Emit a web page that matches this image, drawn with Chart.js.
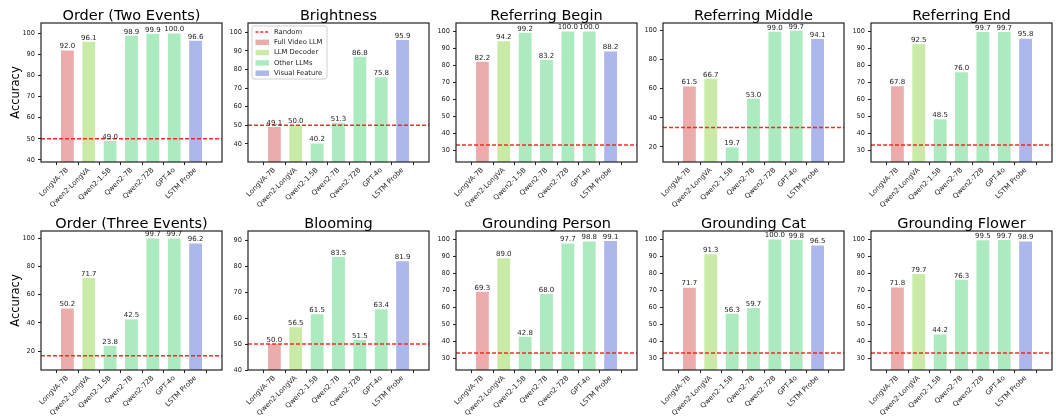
<!DOCTYPE html>
<html lang="en">
<head>
<meta charset="UTF-8">
<title>Probing accuracy per task</title>
<script src="https://cdn.jsdelivr.net/npm/chart.js@4.4.1/dist/chart.umd.min.js"></script>
<style>
  body { margin: 0; background: #fff; }
  #wrap { position: relative; width: 1056px; height: 417px; }
  #wrap canvas { position: absolute; }
</style>
</head>
<body>
<div id="wrap"></div>
<script>
// models and the group each one belongs to
const models = ['LongVA-7B', 'Qwen2-LongVA', 'Qwen2-1.5B', 'Qwen2-7B', 'Qwen2-72B', 'GPT-4o', 'LSTM Probe'];
const modelGroups = ['Full Video LLM', 'LLM Decoder', 'Other LLMs', 'Other LLMs', 'Other LLMs', 'Other LLMs', 'Visual Feature'];

// accuracy per task (same order as models)
const orderTwoEvents   = [92.0, 96.1, 49.0, 98.9, 99.9, 100.0, 96.6];
const brightness       = [49.1, 50.0, 40.2, 51.3, 86.8, 75.8, 95.9];
const referringBegin   = [82.2, 94.2, 99.2, 83.2, 100.0, 100.0, 88.2];
const referringMiddle  = [61.5, 66.7, 19.7, 53.0, 99.0, 99.7, 94.1];
const referringEnd     = [67.8, 92.5, 48.5, 76.0, 99.7, 99.7, 95.8];
const orderThreeEvents = [50.2, 71.7, 23.8, 42.5, 99.7, 99.7, 96.2];
const blooming         = [50.0, 56.5, 61.5, 83.5, 51.5, 63.4, 81.9];
const groundingPerson  = [69.3, 89.0, 42.8, 68.0, 97.7, 98.8, 99.1];
const groundingCat     = [71.7, 91.3, 56.3, 59.7, 100.0, 99.8, 96.5];
const groundingFlower  = [71.8, 79.7, 44.2, 76.3, 99.5, 99.7, 98.9];

const taskTitles = ['Order (Two Events)', 'Brightness', 'Referring Begin', 'Referring Middle', 'Referring End',
                    'Order (Three Events)', 'Blooming', 'Grounding Person', 'Grounding Cat', 'Grounding Flower'];
const taskValues = [orderTwoEvents, brightness, referringBegin, referringMiddle, referringEnd,
                    orderThreeEvents, blooming, groundingPerson, groundingCat, groundingFlower];
// chance level per task
const randomLevel = [50, 50, 33.3, 33.3, 33.3, 16.7, 50, 33.3, 33.3, 33.3];
const yTickStep   = [10, 10, 10, 20, 10, 20, 10, 10, 10, 10];

const groupColors = {
  'Full Video LLM': '#ebadab',
  'LLM Decoder':    '#c9eba7',
  'Other LLMs':     '#acebc0',
  'Visual Feature': '#acb7eb'
};
const legendGroups = ['Full Video LLM', 'LLM Decoder', 'Other LLMs', 'Visual Feature'];

// panel placement
const plotLefts = [41, 248, 456, 663, 871];
const rowTops = [23, 231];
const plotW = 181, plotH = 139;
const axisW = 41, axisH = 45, padTop = 23, padRight = 4;

const FONT = '"DejaVu Sans", sans-serif';
const RANDOM_RED = 'rgba(255,20,20,0.9)';

const panelDeco = {
  id: 'panelDeco',
  afterDatasetsDraw(chart, args, opts) {
    const { ctx, chartArea: a, scales: { y } } = chart;
    ctx.save();

    // chance line
    const ry = y.getPixelForValue(opts.random);
    ctx.strokeStyle = RANDOM_RED;
    ctx.lineWidth = 1.5;
    ctx.setLineDash([4, 2]);
    ctx.beginPath(); ctx.moveTo(a.left, ry); ctx.lineTo(a.right, ry); ctx.stroke();
    ctx.setLineDash([]);

    // value labels
    ctx.font = '7px ' + FONT;
    ctx.fillStyle = '#222';
    ctx.textAlign = 'center';
    ctx.textBaseline = 'bottom';
    const vals = chart.data.datasets[0].data;
    chart.getDatasetMeta(0).data.forEach((bar, i) => {
      ctx.fillText(vals[i].y.toFixed(1), bar.x, bar.y - 0.5);
    });

    // frame
    ctx.strokeStyle = '#222';
    ctx.lineWidth = 1.2;
    ctx.strokeRect(a.left, a.top, a.right - a.left, a.bottom - a.top);

    // title
    ctx.font = '14.5px ' + FONT;
    ctx.fillStyle = '#000';
    ctx.textBaseline = 'alphabetic';
    ctx.fillText(opts.title, (a.left + a.right) / 2, a.top - 3);

    // legend box
    if (opts.legend) {
      const lx = a.left + 4, ly = a.top + 3, lw = 75, lh = 53;
      ctx.fillStyle = 'rgba(255,255,255,0.85)';
      ctx.strokeStyle = '#d0d0d0';
      ctx.lineWidth = 1;
      ctx.beginPath();
      ctx.roundRect(lx, ly, lw, lh, 2);
      ctx.fill(); ctx.stroke();
      ctx.font = '6.8px ' + FONT;
      ctx.textAlign = 'left';
      ctx.textBaseline = 'middle';
      const names = ['Random'].concat(legendGroups);
      names.forEach((name, k) => {
        const cy = ly + 6 + k * 10.3;
        if (k === 0) {
          ctx.strokeStyle = RANDOM_RED;
          ctx.lineWidth = 1.3;
          ctx.setLineDash([3, 1.8]);
          ctx.beginPath(); ctx.moveTo(lx + 3.5, cy); ctx.lineTo(lx + 17, cy); ctx.stroke();
          ctx.setLineDash([]);
        } else {
          ctx.fillStyle = groupColors[name];
          ctx.fillRect(lx + 3.5, cy - 2.7, 13.5, 5.4);
        }
        ctx.fillStyle = '#222';
        ctx.fillText(name, lx + 22, cy);
      });
    }
    ctx.restore();
  }
};

const wrap = document.getElementById('wrap');

taskValues.forEach((vals, t) => {
  const row = Math.floor(t / 5), col = t % 5;
  const canvas = document.createElement('canvas');
  const cw = axisW + plotW + padRight, chh = padTop + plotH + axisH;
  canvas.width = cw; canvas.height = chh;
  canvas.style.left = (plotLefts[col] - axisW) + 'px';
  canvas.style.top = (rowTops[row] - padTop) + 'px';
  canvas.style.width = cw + 'px'; canvas.style.height = chh + 'px';
  wrap.appendChild(canvas);

  const yMin = Math.min(Math.min(...vals), randomLevel[t]) - 10;
  const yMax = Math.min(105, Math.max(...vals) + 10);

  new Chart(canvas, {
    type: 'bar',
    data: {
      datasets: [{
        data: vals.map((v, i) => ({ x: i, y: v })),
        backgroundColor: modelGroups.map(g => groupColors[g]),
        borderWidth: 0,
        categoryPercentage: 1,
        barPercentage: 0.6
      }]
    },
    plugins: [panelDeco],
    options: {
      responsive: false,
      animation: false,
      devicePixelRatio: window.devicePixelRatio || 1,
      layout: { padding: { top: padTop, right: padRight, left: 0, bottom: 0 } },
      plugins: {
        legend: { display: false },
        tooltip: { enabled: false },
        panelDeco: { random: randomLevel[t], title: taskTitles[t], legend: t === 1 }
      },
      scales: {
        x: {
          type: 'linear',
          min: -0.63,
          max: 6.63,
          afterBuildTicks(scale) { scale.ticks = models.map((m, i) => ({ value: i })); },
          afterFit(scale) { scale.height = axisH; },
          border: { display: false },
          grid: { drawOnChartArea: false, drawTicks: true, tickLength: 3, tickColor: '#222' },
          ticks: {
            autoSkip: false,
            maxRotation: 45,
            minRotation: 45,
            padding: 1,
            color: '#222',
            font: { family: FONT, size: 7 },
            callback: (v) => models[v] ?? ''
          }
        },
        y: {
          min: yMin,
          max: yMax,
          afterFit(scale) { scale.width = axisW; },
          border: { display: false },
          grid: { drawOnChartArea: false, drawTicks: true, tickLength: 3, tickColor: '#222' },
          ticks: {
            stepSize: yTickStep[t],
            includeBounds: false,
            padding: 3,
            color: '#222',
            font: { family: FONT, size: 6.6 }
          },
          title: {
            display: col === 0,
            text: 'Accuracy',
            color: '#000',
            font: { family: FONT, size: 11.5 },
            padding: { top: 9, bottom: 0 }
          }
        }
      }
    }
  });
});
</script>
</body>
</html>
